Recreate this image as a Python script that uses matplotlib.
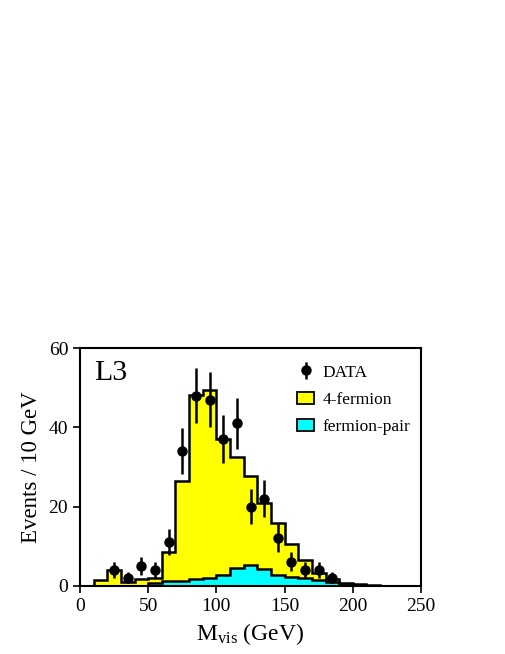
import matplotlib.pyplot as plt
import matplotlib.patches as mpatches
import numpy as np

plt.rcParams['font.family'] = ['Liberation Serif', 'DejaVu Serif']
plt.rcParams['mathtext.fontset'] = 'custom'
plt.rcParams['mathtext.rm'] = 'Liberation Serif'
plt.rcParams['mathtext.it'] = 'Liberation Serif:italic'

# bin edges (GeV) of the 10 GeV histogram
bin_edges = np.arange(10, 230, 10)

# total expectation (4-fermion stacked on fermion-pair)
mc_total = [1.5, 4.0, 0.85, 1.7, 1.85, 8.6, 26.5, 48.2, 49.5, 37.2, 32.5,
            27.8, 20.9, 15.75, 10.5, 6.5, 3.1, 1.7, 0.7, 0.35, 0.1]
# fermion-pair part
ff_pair = [0.0, 0.0, 0.0, 0.0, 0.6, 1.2, 1.2, 1.8, 2.0, 2.6, 4.5,
           5.3, 4.2, 2.7, 2.3, 1.9, 1.4, 0.85, 0.3, 0.2, 0.05]

# data points
data_x = [25, 35, 45, 55, 65, 75, 85, 95, 105, 115, 125, 135, 145, 155, 165, 175, 185]
data_y = [4, 2, 5, 4, 11, 34, 48, 47, 37, 41, 20, 22, 12, 6, 4, 4, 2]
data_err = [2.0, 1.4, 2.2, 2.0, 3.3, 5.8, 6.9, 6.9, 6.1, 6.4, 4.5, 4.7, 3.5, 2.4, 2.0, 2.0, 1.4]

fig = plt.figure(figsize=(5.05, 6.54), dpi=100)
ax = fig.add_axes([0.1584, 0.1044, 0.6753, 0.363])

ax.stairs(mc_total, bin_edges, fill=True, color='#ffff00', lw=0)
ax.stairs(mc_total, bin_edges, color='black', lw=1.8)
ax.stairs(ff_pair, bin_edges, fill=True, color='#00ffff', lw=0)
ax.stairs(ff_pair, bin_edges, color='black', lw=1.8)

eb = ax.errorbar(data_x, data_y, yerr=data_err, fmt='o', color='black',
                 markersize=6.5, elinewidth=1.8, capsize=0, zorder=5)

ax.set_xlim(0, 250)
ax.set_ylim(0, 60)
ax.set_xticks([0, 50, 100, 150, 200, 250])
ax.set_yticks([0, 20, 40, 60])
ax.tick_params(direction='out', length=5, width=1.2, labelsize=14)
for s in ax.spines.values():
    s.set_linewidth(1.5)

ax.set_xlabel(r'M$_{\rm vis}$ (GeV)', fontsize=17, labelpad=5)
ax.set_ylabel('Events / 10 GeV', fontsize=16.5, labelpad=5)

ax.text(0.04, 0.95, 'L3', transform=ax.transAxes, fontsize=21.5, va='top', ha='left')

h_4f = mpatches.Patch(facecolor='#ffff00', edgecolor='black', lw=1.3)
h_ff = mpatches.Patch(facecolor='#00ffff', edgecolor='black', lw=1.3)
ax.legend([eb, h_4f, h_ff], ['DATA', '4-fermion', 'fermion-pair'],
          loc='upper left', bbox_to_anchor=(0.59, 0.998), frameon=False,
          fontsize=12.5, handlelength=1.0, handleheight=0.7,
          labelspacing=0.65, handletextpad=0.5)

fig.savefig('out.png', dpi=100)
